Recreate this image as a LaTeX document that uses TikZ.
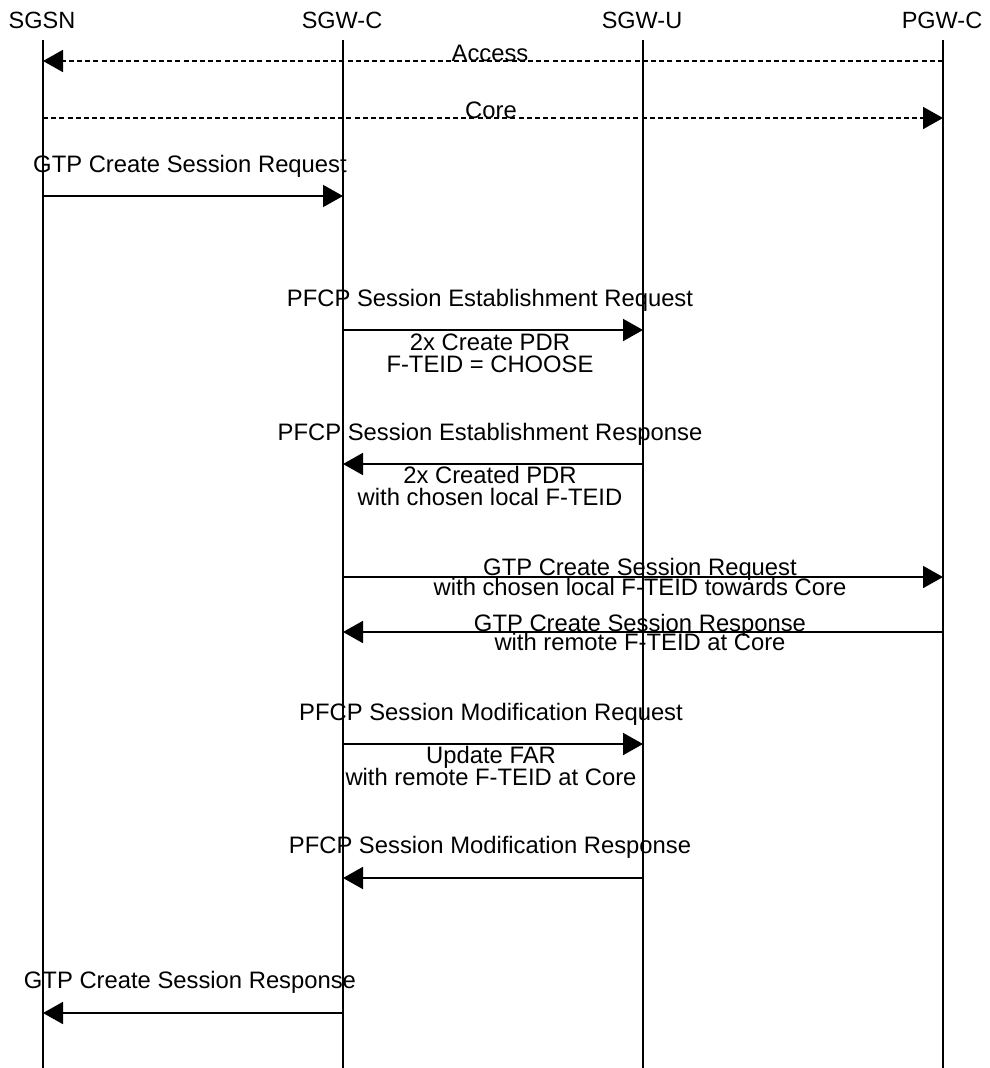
\documentclass[tikz,border=0pt]{standalone}
\usepackage{fontspec}
\setmainfont{Liberation Sans}
\usetikzlibrary{arrows.meta}
\begin{document}
\begin{tikzpicture}[x=1pt,y=-1pt,
  lbl/.style={inner sep=0pt,anchor=base,font=\fontsize{23.8}{22}\selectfont},
  hdr/.style={inner sep=0pt,anchor=base,font=\fontsize{23.5}{22}\selectfont},
  life/.style={line width=1.8pt},
  msg/.style={line width=1.8pt,-{Triangle[length=20pt,width=22pt]}},
  dmsg/.style={msg,dash pattern=on 5pt off 3.2pt}]
\useasboundingbox (0,0) rectangle (989,1068);
% headers
\node[hdr] (sgsn) at (42,28) {SGSN};
\node[hdr] (sgwc) at (342,28) {SGW-C};
\node[hdr] (sgwu) at (642,28) {SGW-U};
\node[hdr] (pgwc) at (942,28) {PGW-C};
% lifelines
\coordinate (t1) at (43,40);  \coordinate (b1) at (43,1068);
\coordinate (t2) at (343,40); \coordinate (b2) at (343,1068);
\coordinate (t3) at (643,40); \coordinate (b3) at (643,1068);
\coordinate (t4) at (943,40); \coordinate (b4) at (943,1068);
\draw[life] (t1) -- (b1);
\draw[life] (t2) -- (b2);
\draw[life] (t3) -- (b3);
\draw[life] (t4) -- (b4);
% 1 Access
\coordinate (a1) at (943,61); \coordinate (a2) at (43,61);
\draw[dmsg] (a1) -- (a2);
\node[lbl] (lacc) at (490,61) {Access};
% 2 Core
\coordinate (c1) at (43,118); \coordinate (c2) at (943,118);
\draw[dmsg] (c1) -- (c2);
\node[lbl] (lcore) at (491,118) {Core};
% 3 GTP CSR
\coordinate (g1) at (43,196); \coordinate (g2) at (343,196);
\draw[msg] (g1) -- (g2);
\node[lbl] (lg) at (190,172) {GTP Create Session Request};
% 4 PFCP SER
\coordinate (p1) at (343,330); \coordinate (p2) at (643,330);
\draw[msg] (p1) -- (p2);
\node[lbl] (lp) at (490,306) {PFCP Session Establishment Request};
\node[lbl] (lpa) at (490,350) {2x Create PDR};
\node[lbl] (lpb) at (490,372) {F-TEID = CHOOSE};
% 5 PFCP SE Response
\coordinate (q1) at (643,464); \coordinate (q2) at (343,464);
\draw[msg] (q1) -- (q2);
\node[lbl] (lq) at (490,440) {PFCP Session Establishment Response};
\node[lbl] (lqa) at (490,483) {2x Created PDR};
\node[lbl] (lqb) at (490,505) {with chosen local F-TEID};
% 6 GTP CSR to PGW-C
\coordinate (r1) at (343,577); \coordinate (r2) at (943,577);
\draw[msg] (r1) -- (r2);
\node[lbl] (lr) at (640,575) {GTP Create Session Request};
\node[lbl] (lrb) at (640,595) {with chosen local F-TEID towards Core};
% 7 GTP CS Response from PGW-C
\coordinate (s1) at (943,632); \coordinate (s2) at (343,632);
\draw[msg] (s1) -- (s2);
\node[lbl] (ls) at (640,631) {GTP Create Session Response};
\node[lbl] (lsb) at (640,650) {with remote F-TEID at Core};
% 8 PFCP SMR
\coordinate (u1) at (343,744); \coordinate (u2) at (643,744);
\draw[msg] (u1) -- (u2);
\node[lbl] (lu) at (491,720) {PFCP Session Modification Request};
\node[lbl] (lua) at (491,763) {Update FAR};
\node[lbl] (lub) at (491,785) {with remote F-TEID at Core};
% 9 PFCP SM Response
\coordinate (v1) at (643,878); \coordinate (v2) at (343,878);
\draw[msg] (v1) -- (v2);
\node[lbl] (lv) at (490,853) {PFCP Session Modification Response};
% 10 GTP CS Response to SGSN
\coordinate (w1) at (343,1013); \coordinate (w2) at (43,1013);
\draw[msg] (w1) -- (w2);
\node[lbl] (lw) at (190,988) {GTP Create Session Response};
\end{tikzpicture}
\end{document}
